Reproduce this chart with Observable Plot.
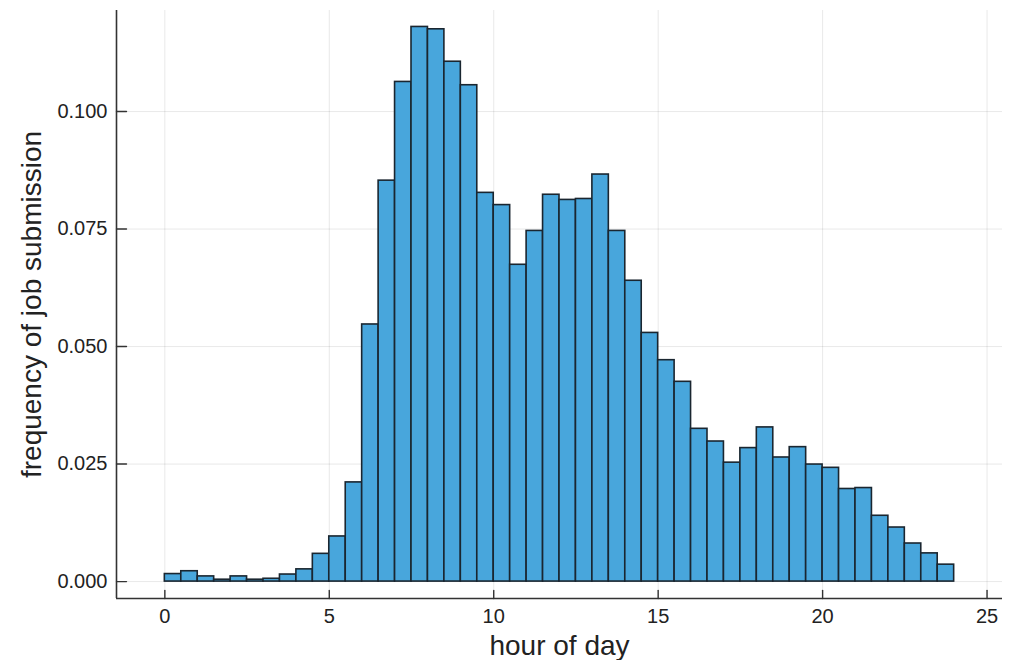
<!DOCTYPE html>
<html>
<head>
<meta charset="utf-8">
<script src="https://cdn.jsdelivr.net/npm/d3@7"></script>
<script src="https://cdn.jsdelivr.net/npm/@observablehq/plot@0.6"></script>
<style>
  html, body { margin: 0; padding: 0; background: #fff; }
  #chart { width: 1012px; height: 660px; }
</style>
</head>
<body>
<div id="chart"></div>
<script>
// Histogram bins (start hour of each half-hour bin) and density values
const binStart = [
  0, 0.5, 1, 1.5, 2, 2.5, 3, 3.5, 4, 4.5,
  5, 5.5, 6, 6.5, 7, 7.5, 8, 8.5, 9, 9.5,
  10, 10.5, 11, 11.5, 12, 12.5, 13, 13.5, 14, 14.5,
  15, 15.5, 16, 16.5, 17, 17.5, 18, 18.5, 19, 19.5,
  20, 20.5, 21, 21.5, 22, 22.5, 23, 23.5
];
const binWidth = 0.5;
const frequency = [
  0.0016, 0.0022, 0.0011, 0.0004, 0.0011, 0.0004, 0.0006, 0.0015, 0.0026, 0.0059,
  0.0096, 0.0211, 0.0547, 0.0853, 0.1063, 0.1180, 0.1175, 0.1106, 0.1056, 0.0827,
  0.0801, 0.0674, 0.0746, 0.0823, 0.0812, 0.0814, 0.0866, 0.0746, 0.0640, 0.0529,
  0.0471, 0.0425, 0.0325, 0.0298, 0.0253, 0.0284, 0.0328, 0.0264, 0.0286, 0.0249,
  0.0242, 0.0197, 0.0199, 0.0140, 0.0115, 0.0081, 0.0060, 0.0036
];
const xTicks = [0, 5, 10, 15, 20, 25];
const yTicks = [0, 0.025, 0.05, 0.075, 0.1];
const xDomain = [-1.47, 25.47];
const yDomain = [-0.0036, 0.1215];
const xLabel = "hour of day";
const yLabel = "frequency of job submission";

const bins = binStart.map((s, i) => ({x1: s, x2: s + binWidth, y: frequency[i]}));

const axisColor = "#333";
const tickLine = {draw(context, l) { context.moveTo(0, 0); context.lineTo(0, -l); }};

const chart = Plot.plot({
  width: 1012,
  height: 660,
  marginLeft: 116,
  marginRight: 10,
  marginTop: 10,
  marginBottom: 62,
  style: {fontFamily: "'Liberation Sans', Arial, Helvetica, sans-serif", background: "#fff"},
  x: {domain: xDomain},
  y: {domain: yDomain},
  marks: [
    // grid
    Plot.gridX(xTicks, {stroke: "#000", strokeOpacity: 0.09, strokeWidth: 1}),
    Plot.gridY(yTicks, {stroke: "#000", strokeOpacity: 0.09, strokeWidth: 1}),
    // bars
    Plot.rectY(bins, {x1: "x1", x2: "x2", y1: 0, y2: "y", fill: "#48a6dc", stroke: "#1a2630", strokeWidth: 1.6}),
    // axis lines
    Plot.ruleX([xDomain[0]], {stroke: axisColor, strokeWidth: 1.6}),
    Plot.ruleY([yDomain[0]], {stroke: axisColor, strokeWidth: 1.6}),
    // inward ticks
    Plot.vector(yTicks, {x: xDomain[0], y: d => d, length: 10, rotate: 90, anchor: "start", shape: tickLine, stroke: axisColor, strokeWidth: 1.4}),
    Plot.vector(xTicks, {x: d => d, y: yDomain[0], length: 8, rotate: 0, anchor: "start", shape: tickLine, stroke: axisColor, strokeWidth: 1.4}),
    // tick labels
    Plot.axisY(yTicks, {tickSize: 0, tickPadding: 9, tickFormat: d3.format(".3f"), fontSize: 20, fill: "#222", label: null}),
    Plot.axisX(xTicks, {tickSize: 0, tickPadding: 10, tickFormat: d3.format("d"), fontSize: 20, fill: "#222", label: null}),
    // axis titles
    Plot.text([xLabel], {frameAnchor: "bottom", dy: 56, lineAnchor: "bottom", fontSize: 28, fill: "#222"}),
    Plot.text([yLabel], {frameAnchor: "left", dx: -84, rotate: -90, lineAnchor: "middle", textAnchor: "middle", fontSize: 28, fill: "#222"})
  ]
});
document.getElementById("chart").appendChild(chart);
</script>
</body>
</html>
